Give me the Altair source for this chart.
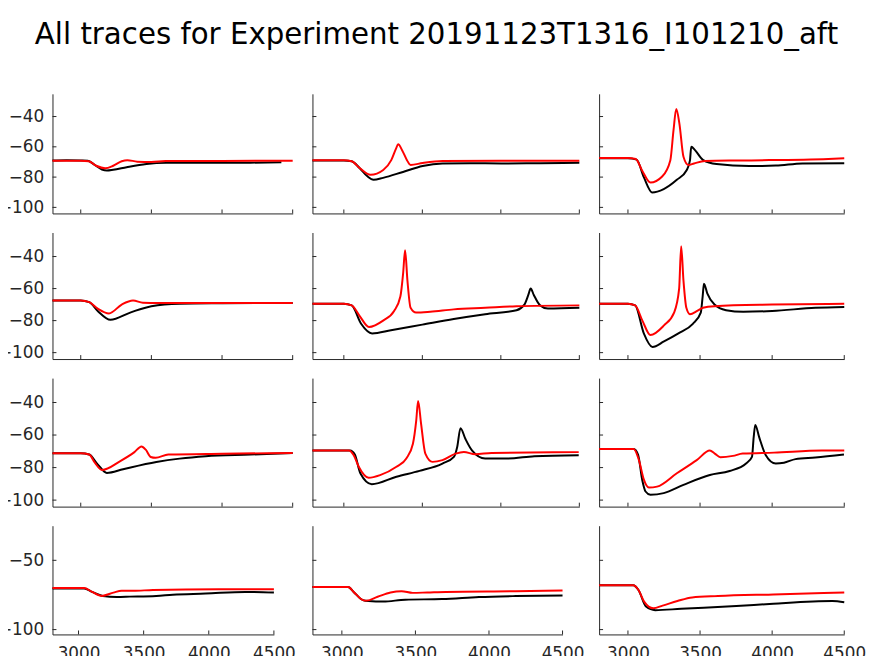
import altair as alt
import pandas as pd

TITLE = "All traces for Experiment 20191123T1316_I101210_aft"
X_DOMAIN = [2800, 4500]
X_TICKS = [3000, 3500, 4000, 4500]
Y_TICKS_TOP = [-100, -80, -60, -40]
Y_TICKS_BOTTOM = [-100, -50]
Y_DOMAIN_TOP = [-104, -25]
Y_DOMAIN_BOTTOM = [-103.5, -25]

# ---- row 1 ----
p11_black_t = [2800, 2900, 3000, 3050, 3100, 3150, 3185, 3230, 3325, 3465, 3605, 3800, 4000, 4200, 4420]
p11_black_v = [-69, -68.8, -69, -69.2, -72, -75, -75.7, -75.2, -73.5, -71.4, -70.6, -70.5, -70.6, -70.5, -70.2]
p11_red_t = [2800, 3000, 3057, 3110, 3173, 3230, 3290, 3330, 3400, 3500, 3600, 4000, 4500]
p11_red_v = [-69.2, -69.2, -69.5, -72.5, -74.2, -72.5, -69.5, -68.8, -69.8, -70, -69.4, -69.3, -69.2]

p12_black_t = [2800, 3000, 3050, 3100, 3150, 3189, 3250, 3377, 3502, 3628, 3800, 4004, 4250, 4500]
p12_black_v = [-69, -69, -69.5, -74, -79.5, -81.8, -80.5, -76.6, -72.7, -71, -70.8, -71, -70.8, -70.5]
p12_red_t = [2800, 3000, 3050, 3100, 3170, 3251, 3302, 3333, 3346, 3371, 3402, 3425, 3502, 3628, 4000, 4500]
p12_red_v = [-68.8, -68.8, -69.5, -74, -78.5, -75.3, -68.8, -61, -58.3, -62.2, -68.8, -72, -70.7, -69.4, -69.2, -69.2]

p13_black_t = [2800, 3000, 3060, 3110, 3168, 3248, 3339, 3408, 3430, 3439, 3465, 3522, 3614, 3842, 4025, 4210, 4500]
p13_black_v = [-67.5, -67.5, -68.5, -80, -90.1, -87.9, -81.8, -75.3, -69, -60, -62.2, -68.8, -71.4, -72.7, -72.4, -71, -70.8]
p13_red_t = [2800, 3000, 3054, 3100, 3156, 3237, 3294, 3316, 3335, 3357, 3385, 3419, 3458, 3533, 3790, 4390, 4500]
p13_red_v = [-67.4, -67.4, -68, -76, -83.6, -79.6, -68.8, -49, -35, -44.8, -66.6, -72, -71, -69.4, -69, -68, -67.6]

# ---- row 2 ----
p21_black_t = [2800, 3000, 3060, 3120, 3210, 3350, 3500, 3700, 4000, 4500]
p21_black_v = [-67.5, -67.5, -68.5, -74, -79.5, -75, -71, -69.5, -69.2, -69]
p21_red_t = [2800, 3000, 3060, 3120, 3200, 3290, 3370, 3440, 3550, 4000, 4500]
p21_red_v = [-67.5, -67.5, -68.5, -72.5, -75.5, -70, -67.5, -68.8, -69, -69, -69]

p22_black_t = [2800, 3000, 3050, 3110, 3180, 3300, 3500, 3700, 3900, 4100, 4150, 4175, 4190, 4210, 4250, 4300, 4500]
p22_black_v = [-69.5, -69.5, -70.5, -82, -88, -86, -82.5, -79, -76, -73.5, -70, -64, -60, -64, -70.5, -72.5, -72]
p22_red_t = [2800, 3000, 3050, 3100, 3160, 3250, 3320, 3360, 3378, 3390, 3405, 3425, 3460, 3550, 3700, 3900, 4100, 4500]
p22_red_v = [-69.5, -69.5, -70.5, -77, -84, -80, -74, -65, -50, -36, -55, -72, -75, -74.5, -73, -72, -71, -70.5]

p23_black_t = [2800, 3000, 3050, 3110, 3170, 3250, 3350, 3450, 3505, 3518, 3527, 3550, 3600, 3680, 3800, 4000, 4300, 4500]
p23_black_v = [-69.5, -69.5, -70.5, -88, -96.5, -93, -88, -82, -75, -65, -57, -63, -70, -73.5, -74.5, -74, -72, -71.5]
p23_red_t = [2800, 3000, 3050, 3100, 3156, 3250, 3320, 3355, 3369, 3385, 3405, 3430, 3480, 3520, 3600, 4000, 4500]
p23_red_v = [-69.5, -69.5, -70.5, -80, -89, -83, -75, -60, -33.5, -55, -72, -76, -74, -72, -71, -70, -69.5]

# ---- row 3 ----
p31_black_t = [2800, 3000, 3060, 3120, 3185, 3300, 3535, 3700, 3885, 4200, 4500]
p31_black_v = [-71.2, -71.2, -72, -78, -83.3, -81, -76.6, -74.5, -73, -72, -71]
p31_red_t = [2800, 3000, 3060, 3100, 3150, 3280, 3380, 3430, 3460, 3495, 3530, 3620, 4000, 4500]
p31_red_v = [-71.2, -71.2, -72, -77, -81.5, -76, -70.5, -67, -69, -73.5, -74, -72, -71.5, -71]

p32_black_t = [2800, 3040, 3070, 3105, 3178, 3335, 3482, 3628, 3701, 3722, 3743, 3774, 3816, 3900, 4046, 4213, 4496]
p32_black_v = [-69.5, -69.5, -72, -83.5, -90.2, -85.6, -82, -77.5, -73.4, -67.3, -55.8, -62.3, -69.4, -74.4, -74.4, -73, -72.4]
p32_red_t = [2800, 3032, 3063, 3095, 3158, 3231, 3335, 3398, 3440, 3461, 3473, 3492, 3519, 3565, 3628, 3712, 3764, 3837, 3941, 4496]
p32_red_v = [-69.5, -69.5, -72.4, -79.5, -86.2, -84.6, -79.5, -74.4, -65.3, -51.1, -39, -53.1, -71.4, -76.5, -75.4, -71.4, -70.4, -71.8, -71, -70.5]

p33_black_t = [2800, 3040, 3070, 3099, 3122, 3156, 3248, 3385, 3568, 3705, 3819, 3860, 3872, 3883, 3910, 3956, 4025, 4082, 4162, 4299, 4498]
p33_black_v = [-68.6, -68.6, -72, -87.6, -94.7, -96.7, -95.7, -90.6, -84.6, -82.1, -77.5, -73.4, -61.3, -53.8, -61.3, -72.4, -77.5, -77, -74.8, -73.8, -72]
p33_red_t = [2800, 3040, 3076, 3111, 3145, 3202, 3339, 3477, 3568, 3602, 3641, 3728, 3796, 4013, 4345, 4500]
p33_red_v = [-68.6, -68.6, -75.4, -87.6, -92.3, -91.7, -83.5, -75.4, -69.5, -71.4, -73.6, -72.8, -71.4, -70.8, -69.5, -69.5]

# ---- row 4 ----
p41_black_t = [2800, 3043, 3104, 3187, 3293, 3394, 3597, 3724, 3976, 4280, 4500]
p41_black_v = [-70.3, -70.3, -72.8, -75.7, -76.4, -76.2, -75.7, -74.8, -74, -72.8, -73.3]
p41_red_t = [2800, 3043, 3104, 3179, 3268, 3331, 3420, 3572, 4077, 4500]
p41_red_v = [-70, -70, -72.8, -75.7, -73.3, -71.9, -72, -71.4, -70.9, -70.9]

p42_black_t = [2800, 3043, 3080, 3143, 3181, 3281, 3431, 3681, 3932, 4182, 4500]
p42_black_v = [-69.2, -69.2, -72.8, -78.7, -79.4, -79.8, -78.4, -78, -76.5, -75.8, -75.4]
p42_red_t = [2800, 3043, 3080, 3143, 3168, 3243, 3331, 3406, 3481, 3581, 3706, 4182, 4500]
p42_red_v = [-69.2, -69.2, -72.8, -78.7, -79.1, -76.3, -73.2, -72.3, -73.5, -73.2, -72.8, -72.3, -71.8]

p43_black_t = [2800, 3036, 3074, 3125, 3189, 3368, 3752, 4008, 4418, 4500]
p43_black_v = [-68, -68, -71.6, -83.4, -86, -85, -83, -81.3, -79.4, -80.3]
p43_red_t = [2800, 3036, 3074, 3112, 3176, 3240, 3343, 3445, 3624, 4008, 4500]
p43_red_v = [-68, -68, -71.6, -79.8, -84.6, -82.7, -79.4, -76.8, -75.8, -74.6, -73.2]

PANELS = [
    [(p11_black_t, p11_black_v, p11_red_t, p11_red_v),
     (p12_black_t, p12_black_v, p12_red_t, p12_red_v),
     (p13_black_t, p13_black_v, p13_red_t, p13_red_v)],
    [(p21_black_t, p21_black_v, p21_red_t, p21_red_v),
     (p22_black_t, p22_black_v, p22_red_t, p22_red_v),
     (p23_black_t, p23_black_v, p23_red_t, p23_red_v)],
    [(p31_black_t, p31_black_v, p31_red_t, p31_red_v),
     (p32_black_t, p32_black_v, p32_red_t, p32_red_v),
     (p33_black_t, p33_black_v, p33_red_t, p33_red_v)],
    [(p41_black_t, p41_black_v, p41_red_t, p41_red_v),
     (p42_black_t, p42_black_v, p42_red_t, p42_red_v),
     (p43_black_t, p43_black_v, p43_red_t, p43_red_v)],
]

COL_W = [243, 270, 248]
COL_W_LAST = [224, 253, 248]
ROW_H = [121, 128, 130, 110]
AX = "#262626"
FONT = "DejaVu Sans"


def make_panel(r, c):
    bt, bv, rt, rv = PANELS[r][c]
    last = r == 3
    w = COL_W_LAST[c] if last else COL_W[c]
    h = ROW_H[r]
    ydom = Y_DOMAIN_BOTTOM if last else Y_DOMAIN_TOP
    yticks = Y_TICKS_BOTTOM if last else Y_TICKS_TOP
    xs = alt.Scale(domain=X_DOMAIN, nice=False, zero=False)
    ys = alt.Scale(domain=ydom, nice=False, zero=False)
    xaxis = alt.Axis(values=X_TICKS, labels=last, ticks=False, grid=False, title=None,
                     labelFlush=False, labelOverlap=False, labelPadding=11, format="d")
    yaxis = alt.Axis(values=yticks, labels=(c == 0), ticks=False, grid=False, title=None,
                     labelFlush=False, labelOverlap=False, labelPadding=9, format="d")
    df_b = pd.DataFrame({"t": bt, "v": bv})
    df_r = pd.DataFrame({"t": rt, "v": rv})
    black = alt.Chart(df_b).mark_line(color="black", strokeWidth=2, interpolate="monotone").encode(
        x=alt.X("t:Q", scale=xs, axis=xaxis), y=alt.Y("v:Q", scale=ys, axis=yaxis))
    red = alt.Chart(df_r).mark_line(color="#ff0000", strokeWidth=2, interpolate="monotone").encode(
        x=alt.X("t:Q", scale=xs, axis=xaxis), y=alt.Y("v:Q", scale=ys, axis=yaxis))
    xt = alt.Chart(pd.DataFrame({"t": X_TICKS})).mark_rule(color=AX, strokeWidth=1).encode(
        x=alt.X("t:Q", scale=xs, axis=xaxis), y=alt.value(h), y2=alt.value(h - 4))
    yt = alt.Chart(pd.DataFrame({"v": yticks})).mark_rule(color=AX, strokeWidth=1).encode(
        y=alt.Y("v:Q", scale=ys, axis=yaxis), x=alt.value(0), x2=alt.value(4))
    return alt.layer(black, red, xt, yt).properties(width=w, height=h)


panels = [make_panel(r, c) for r in range(4) for c in range(3)]

chart = alt.concat(
    *panels, columns=3, spacing={"row": 19.3, "column": 20}, bounds="flush"
).properties(
    title=alt.TitleParams(TITLE, fontSize=29.6, font=FONT, fontWeight="normal", color="black",
                          anchor="middle", baseline="alphabetic", offset=21, dx=5),
    padding={"left": -11, "top": 8, "right": 0, "bottom": 0},
).configure_view(stroke=None).configure_axis(
    domainColor=AX, domainWidth=1, labelColor=AX, labelFont=FONT, labelFontSize=17
)

chart.save("out.html", embed_options={"renderer": "svg", "actions": False})
